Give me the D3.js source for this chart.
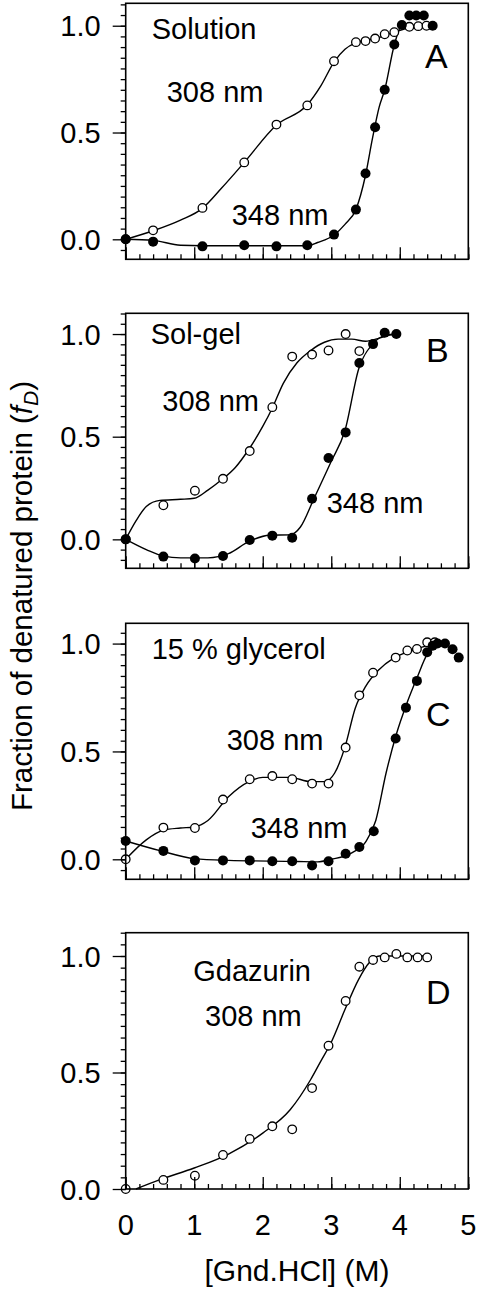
<!DOCTYPE html>
<html><head><meta charset="utf-8">
<script src="https://cdn.jsdelivr.net/npm/d3@7"></script>
<style>
html,body{margin:0;padding:0;background:#fff;}
svg{display:block;}
text{font-family:"Liberation Sans",Arial,Helvetica,sans-serif;fill:#000;}
</style></head>
<body>
<script>
// ---------- DATA ----------
// x = [Gnd.HCl] (M), y = fraction denatured fD
// Panel A: Solution
const A_x308 = [0,0.40,1.12,1.73,2.20,2.65,3.04,3.36,3.50,3.64,3.78,3.92,4.14,4.27,4.39];
const A_y308 = [0,0.042,0.147,0.36,0.537,0.627,0.834,0.923,0.928,0.94,0.96,0.97,0.995,0.998,1.0];
const A_x348 = [0,0.40,1.12,1.73,2.20,2.65,3.04,3.36,3.50,3.64,3.78,3.92,4.03,4.14,4.24,4.35,4.48];
const A_y348 = [0,-0.011,-0.033,-0.028,-0.033,-0.028,0.022,0.139,0.308,0.525,0.70,0.912,1.003,1.048,1.048,1.048,1.0];
const A_fit308x = [0,0.4,0.8,1.12,1.4,1.73,2.2,2.65,2.85,3.04,3.2,3.36,3.64,3.92,4.14,4.4];
const A_fit308y = [0,0.04,0.09,0.145,0.24,0.36,0.535,0.63,0.72,0.83,0.89,0.92,0.94,0.97,0.99,1.0];
const A_fit348x = [0,0.4,0.8,1.12,2.65,2.8,3.04,3.2,3.36,3.5,3.6,3.7,3.78,3.92,4.03,4.48];
const A_fit348y = [0,-0.005,-0.028,-0.03,-0.03,-0.015,0.02,0.07,0.14,0.3,0.47,0.62,0.70,0.91,1.0,1.0];

// Panel B: Sol-gel
const B_x308 = [0,0.55,1.01,1.42,1.81,2.14,2.43,2.72,2.96,3.21,3.41];
const B_y308 = [0,0.166,0.237,0.295,0.43,0.644,0.89,0.90,0.92,1.0,0.917];
const B_x348 = [0,0.55,1.01,1.42,1.81,2.14,2.43,2.72,2.96,3.21,3.41,3.61,3.78,3.95];
const B_y348 = [0,-0.084,-0.093,-0.081,-0.003,0.018,0.008,0.198,0.396,0.521,0.859,0.951,1.006,1.0];
const B_fit308x = [0,0.15,0.3,0.5,0.8,1.0,1.2,1.4,1.6,1.8,2.0,2.14,2.3,2.5,2.7,2.9,3.1,3.3,3.5,3.7,3.85,3.95];
const B_fit308y = [0,0.09,0.16,0.19,0.195,0.2,0.24,0.29,0.35,0.44,0.55,0.64,0.76,0.86,0.92,0.96,0.975,0.975,0.965,0.98,0.995,1.0];
const B_fit348x = [0,0.3,0.55,0.8,1.2,1.5,1.8,2.1,2.4,2.55,2.75,3.0,3.2,3.4,3.6,3.8,3.95];
const B_fit348y = [0,-0.05,-0.082,-0.09,-0.09,-0.07,-0.01,0.02,0.022,0.06,0.2,0.38,0.53,0.83,0.95,0.995,1.0];

// Panel C: 15 % glycerol
const C_x308 = [0,0.55,1.01,1.42,1.81,2.14,2.43,2.72,2.96,3.21,3.41,3.61,3.94,4.11,4.25,4.40,4.51];
const C_y308 = [0,0.147,0.145,0.277,0.371,0.386,0.371,0.351,0.351,0.518,0.760,0.865,0.935,0.968,0.975,1.006,1.006];
const C_x348 = [0,0.55,1.01,1.42,1.81,2.14,2.43,2.72,2.96,3.21,3.41,3.62,3.94,4.09,4.25,4.40,4.48,4.55,4.66,4.77,4.86];
const C_y348 = [0.085,0.039,-0.005,-0.005,-0.005,-0.009,-0.009,-0.029,-0.009,0.026,0.057,0.13,0.56,0.703,0.827,0.96,0.99,1.0,1.0,0.974,0.935];
const C_fit308x = [0,0.3,0.55,0.8,1.0,1.2,1.5,1.8,2.0,2.4,2.7,2.9,3.05,3.2,3.35,3.5,3.7,3.9,4.2,4.5];
const C_fit308y = [0,0.09,0.135,0.145,0.15,0.18,0.29,0.36,0.38,0.38,0.36,0.36,0.40,0.52,0.70,0.80,0.88,0.93,0.97,1.0];
const C_fit348x = [0,0.5,1.0,1.5,2.5,2.8,3.0,3.3,3.5,3.65,3.8,3.95,4.1,4.25,4.4,4.55,4.7];
const C_fit348y = [0.085,0.04,0.003,-0.005,-0.01,-0.012,0.0,0.03,0.08,0.18,0.40,0.58,0.72,0.84,0.95,0.99,1.0];

// Panel D: Gdazurin
const D_x308 = [0,0.55,1.01,1.42,1.81,2.14,2.43,2.72,2.96,3.21,3.41,3.61,3.78,3.95,4.11,4.26,4.40];
const D_y308 = [0,0.039,0.057,0.146,0.215,0.269,0.256,0.433,0.615,0.807,0.954,0.983,0.994,1.009,0.994,0.994,0.994];
const D_fitx = [0.15,0.5,1.0,1.5,2.0,2.4,2.7,2.85,3.0,3.2,3.4,3.55,3.7,4.4];
const D_fity = [0,0.04,0.09,0.15,0.24,0.34,0.47,0.55,0.63,0.77,0.90,0.97,1.0,1.0];

const xTicks = [0,1,2,3,4,5];
const xTickLabels = ["0","1","2","3","4","5"];
const yTicks = [0,0.5,1.0];
const yTickLabels = ["0.0","0.5","1.0"];

// ---------- LAYOUT ----------
const W = 478, H = 1292;
const L = 125.7, R = 468.3;
const FS = 29;
const panels = [
  {id:"A", top:3.3, bottom:259.3, ymin:-0.0936, ymax:1.105,
   open:[A_x308,A_y308], filled:[A_x348,A_y348], fits:[[A_fit308x,A_fit308y],[A_fit348x,A_fit348y]],
   texts:[{t:"Solution",x:151.7,y:39.3},{t:"308 nm",x:166.7,y:101.7},{t:"348 nm",x:231.7,y:225}],
   letter:{x:425,y:68.3}},
  {id:"B", top:313.3, bottom:568.3, ymin:-0.141, ymax:1.101,
   open:[B_x308,B_y308], filled:[B_x348,B_y348], fits:[[B_fit308x,B_fit308y],[B_fit348x,B_fit348y]],
   texts:[{t:"Sol-gel",x:150.7,y:344},{t:"308 nm",x:162.3,y:410.7},{t:"348 nm",x:326.7,y:513.3}],
   letter:{x:426,y:361.7}},
  {id:"C", top:623.3, bottom:879.3, ymin:-0.0927, ymax:1.094,
   open:[C_x308,C_y308], filled:[C_x348,C_y348], fits:[[C_fit308x,C_fit308y],[C_fit348x,C_fit348y]],
   texts:[{t:"15 % glycerol",x:151.7,y:659.3},{t:"308 nm",x:226.7,y:750},{t:"348 nm",x:250.7,y:838.3}],
   letter:{x:426,y:726}},
  {id:"D", top:932.7, bottom:1189, ymin:0, ymax:1.10,
   open:[D_x308,D_y308], filled:null, fits:[[D_fitx,D_fity]],
   texts:[{t:"Gdazurin",x:193.3,y:980.7},{t:"308 nm",x:205,y:1026}],
   letter:{x:426,y:1004.3}, xlabels:true}
];

const svg = d3.select("body").append("svg").attr("width",W).attr("height",H);
const x = d3.scaleLinear().domain([0,5]).range([L,R]);
const zip = (xs,ys) => xs.map((v,i)=>[v,ys[i]]);

panels.forEach(p=>{
  const y = d3.scaleLinear().domain([p.ymin,p.ymax]).range([p.bottom,p.top]);
  const g = svg.append("g");
  const line = d3.line().x(d=>x(d[0])).y(d=>y(d[1])).curve(d3.curveMonotoneX);
  p.fits.forEach(f=>{
    g.append("path").attr("d",line(zip(f[0],f[1]))).attr("fill","none").attr("stroke","#000").attr("stroke-width",1.4);
  });
  g.selectAll(null).data(zip(p.open[0],p.open[1])).join("circle")
    .attr("cx",d=>x(d[0])).attr("cy",d=>y(d[1])).attr("r",4.3)
    .attr("fill","#fff").attr("stroke","#000").attr("stroke-width",1.3);
  if(p.filled){
    g.selectAll(null).data(zip(p.filled[0],p.filled[1])).join("circle")
      .attr("cx",d=>x(d[0])).attr("cy",d=>y(d[1])).attr("r",5)
      .attr("fill","#000");
  }
  g.append("rect").attr("x",L).attr("y",p.top).attr("width",R-L).attr("height",p.bottom-p.top)
    .attr("fill","none").attr("stroke","#000").attr("stroke-width",1.6);
  const yMinor = d3.range(-0.15,1.151,0.05).map(v=>Math.round(v*100)/100).filter(v=>v>=p.ymin-1e-6 && v<=p.ymax+1e-6);
  const yAx = d3.axisLeft(y).tickValues(yMinor).tickSize(5).tickFormat("");
  g.append("g").attr("transform",`translate(${L},0)`).call(yAx).call(s=>{s.select(".domain").remove();s.selectAll("line").attr("stroke-width",1.3);});
  const yAxM = d3.axisLeft(y).tickValues(yTicks).tickSize(13).tickPadding(12)
    .tickFormat((d,i)=>yTickLabels[i]);
  g.append("g").attr("transform",`translate(${L},0)`).call(yAxM).call(s=>{
    s.select(".domain").remove();
    s.selectAll("line").attr("stroke-width",1.3);
    s.selectAll("text").attr("font-size",FS).attr("font-family","Liberation Sans, Arial, sans-serif").attr("dy","0.35em");
  });
  const xMinor = d3.range(0,5.01,0.2).map(v=>Math.round(v*10)/10);
  const xAx = d3.axisTop(x).tickValues(xMinor).tickSize(5).tickFormat("");
  g.append("g").attr("transform",`translate(0,${p.bottom})`).call(xAx).call(s=>{s.select(".domain").remove();s.selectAll("line").attr("stroke-width",1.3);});
  const xAxM = d3.axisTop(x).tickValues(xTicks).tickSize(12).tickFormat("");
  g.append("g").attr("transform",`translate(0,${p.bottom})`).call(xAxM).call(s=>{s.select(".domain").remove();s.selectAll("line").attr("stroke-width",1.3);});
  if(p.xlabels){
    g.selectAll(null).data(xTicks).join("text")
      .attr("x",d=>x(d)).attr("y",p.bottom+46).attr("text-anchor","middle")
      .attr("font-size",FS).text((d,i)=>xTickLabels[i]);
  }
  p.texts.forEach(t=>{
    g.append("text").attr("x",t.x).attr("y",t.y).attr("font-size",FS).text(t.t);
  });
  g.append("text").attr("x",p.letter.x).attr("y",p.letter.y).attr("font-size",34).text(p.id);
});

svg.append("text").attr("x",(L+R)/2).attr("y",1281).attr("text-anchor","middle")
  .attr("font-size",30).text("[Gnd.HCl] (M)");
const yt = svg.append("text").attr("transform","translate(32,596) rotate(-90)")
  .attr("text-anchor","middle").attr("font-size",29.5);
yt.append("tspan").text("Fraction of denatured protein (");
yt.append("tspan").attr("font-style","italic").text("f");
yt.append("tspan").attr("font-style","italic").attr("font-size",21).attr("dy",6).text("D");
yt.append("tspan").attr("dy",-6).text(")");
</script>
</body></html>
